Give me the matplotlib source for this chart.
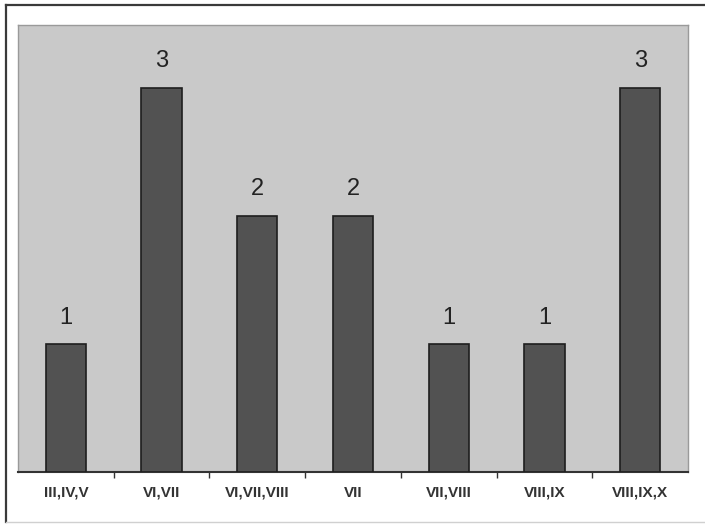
import matplotlib
matplotlib.use("Agg")
import matplotlib.pyplot as plt
from matplotlib.lines import Line2D

categories = ["III,IV,V", "VI,VII", "VI,VII,VIII", "VII", "VII,VIII", "VIII,IX", "VIII,IX,X"]
counts = [1, 3, 2, 2, 1, 1, 3]

plt.rcParams["font.family"] = ["Liberation Sans", "DejaVu Sans"]

W, H = 705, 524
fig = plt.figure(figsize=(W / 100, H / 100), dpi=100)
fig.patch.set_facecolor("white")

# frame: dark left/top edge, faint bottom edge
def px_line(x0, y0, x1, y1, color, lw):
    fig.lines.append(Line2D([x0 / W, x1 / W], [1 - y0 / H, 1 - y1 / H],
                            transform=fig.transFigure, color=color, linewidth=lw))

px_line(6, 5, 705, 5, "#3a3a3a", 1.6)
px_line(6, 5, 6, 522, "#3a3a3a", 1.6)
px_line(6, 522, 705, 522, "#d0d0d0", 1.0)

# plot area in pixels: left 18, top 25, right 688, bottom 472
ax = fig.add_axes([18 / W, 1 - 472 / H, 670 / W, 447 / H])
ax.set_facecolor("#c9c9c9")

x = range(len(categories))
ax.bar(x, counts, width=0.42, color="#525252", edgecolor="#1e1e1e", linewidth=1.2, zorder=3)
for xi, c in zip(x, counts):
    ax.text(xi, c + 0.12, str(c), ha="center", va="bottom", fontsize=17, color="#222222")

ax.set_xlim(-0.5, len(categories) - 0.5)
ax.set_ylim(0, 3.49)
ax.set_yticks([])
ax.set_xticks([i + 0.5 for i in range(len(categories) - 1)], minor=False)
ax.set_xticklabels([])
ax.set_xticks(list(x), minor=True)
ax.set_xticklabels(categories, minor=True, fontsize=11, fontweight="bold", color="#333333")
ax.tick_params(axis="x", which="major", length=4, width=1, color="#333333", direction="out")
ax.tick_params(axis="x", which="minor", length=0, pad=10)

for side in ["left", "right", "top"]:
    ax.spines[side].set_color("#9a9a9a")
    ax.spines[side].set_linewidth(1)
ax.spines["bottom"].set_color("#333333")
ax.spines["bottom"].set_linewidth(1.5)

fig.savefig("out.png", dpi=100)
